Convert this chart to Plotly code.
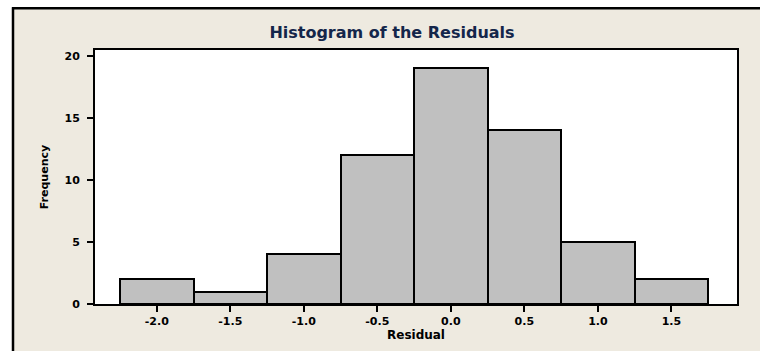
import plotly.graph_objects as go

bin_centers = [-2.0, -1.5, -1.0, -0.5, 0.0, 0.5, 1.0, 1.5]
counts = [2, 1, 4, 12, 19, 14, 5, 2]
x_ticks = [-2.0, -1.5, -1.0, -0.5, 0.0, 0.5, 1.0, 1.5]
x_ticklabels = ["-2.0", "-1.5", "-1.0", "-0.5", "0.0", "0.5", "1.0", "1.5"]
y_ticks = [0, 5, 10, 15, 20]

W, H = 760, 351
plot_left, plot_right, plot_top, plot_bottom = 95, 737, 50, 306
L, T = plot_left, plot_top
R, B = W - plot_right, H - plot_bottom
pw = plot_right - plot_left
ph = plot_bottom - plot_top

def px_x(p):
    return (p - plot_left) / pw

def px_y(p):
    return (plot_bottom - p) / ph

fig = go.Figure(go.Bar(
    x=bin_centers, y=counts, width=0.5,
    marker=dict(color="#C0C0C0", line=dict(color="#000000", width=2)),
))

beige = "#EEEAE0"
fig.update_layout(
    width=W, height=H,
    margin=dict(l=L, r=R, t=T, b=B),
    paper_bgcolor=beige, plot_bgcolor="#FFFFFF",
    showlegend=False,
    font=dict(family="DejaVu Sans", color="#000000"),
    title=dict(text="<b>Histogram of the Residuals</b>",
               x=392 / W, xanchor="center",
               y=1 - 32 / H, yanchor="middle",
               font=dict(size=16, color="#14264A", family="DejaVu Sans")),
    bargap=0,
)
fig.update_xaxes(
    range=[-2.42, 1.946], tickvals=x_ticks, ticktext=x_ticklabels,
    showgrid=False, zeroline=False, showline=True, mirror=True,
    linecolor="#000000", linewidth=2, ticks="outside", ticklen=6, tickwidth=2,
    tickcolor="#000000", tickfont=dict(size=11, family="DejaVu Sans", weight="bold"),
    title=dict(text="<b>Residual</b>", font=dict(size=12), standoff=2),
)
fig.update_yaxes(
    range=[0, 20.46], tickvals=y_ticks,
    showgrid=False, zeroline=False, showline=True, mirror=True,
    linecolor="#000000", linewidth=2, ticks="outside", ticklen=6, tickwidth=2,
    tickcolor="#000000", tickfont=dict(size=11, family="DejaVu Sans", weight="bold"),
    ticklabelstandoff=5,
    title=dict(text="<b>Frequency</b>", font=dict(size=11), standoff=14),
)

# outer frame: white strips above and left, black border lines at top and left
fig.add_shape(type="rect", xref="paper", yref="paper", layer="above",
              x0=px_x(-5), x1=px_x(12), y0=px_y(H + 20), y1=px_y(-5),
              fillcolor="#FFFFFF", line=dict(width=0))
fig.add_shape(type="rect", xref="paper", yref="paper", layer="above",
              x0=px_x(-5), x1=px_x(W + 20), y0=px_y(7), y1=px_y(-5),
              fillcolor="#FFFFFF", line=dict(width=0))
fig.add_shape(type="line", xref="paper", yref="paper", layer="above",
              x0=px_x(12), x1=px_x(W + 20), y0=px_y(8), y1=px_y(8),
              line=dict(color="#000000", width=2.5))
fig.add_shape(type="line", xref="paper", yref="paper", layer="above",
              x0=px_x(13), x1=px_x(13), y0=px_y(7), y1=px_y(H + 20),
              line=dict(color="#000000", width=2.5))

fig.write_html("out.html",
               config={"displayModeBar": False},
               post_script="document.body.style.margin='0';document.body.style.overflow='hidden';")
